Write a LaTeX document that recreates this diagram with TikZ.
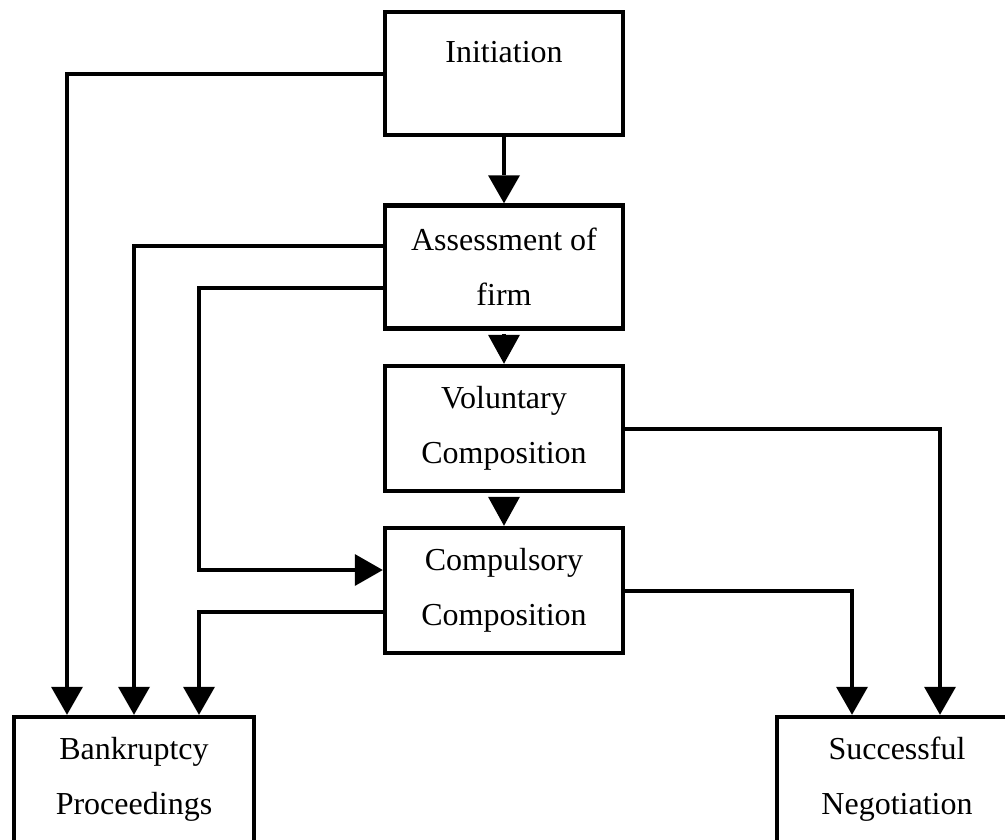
\documentclass[tikz,border=0pt]{standalone}
\usepackage{fontspec}
\setmainfont{Liberation Serif}
\usetikzlibrary{arrows.meta}
\begin{document}
\begin{tikzpicture}[x=1pt,y=-1pt,
  box/.style={draw=black,line width=4.5pt,rectangle,align=center,inner sep=0pt,
    font=\fontsize{32}{55}\selectfont},
  conn/.style={draw=black,line width=4pt,-{Triangle[width=32pt,length=28pt,line width=0pt]}},
  shortconn/.style={draw=black,line width=4pt,shorten <=3.5pt,-{Triangle[width=32pt,length=29pt,line width=0pt]}}]
\useasboundingbox (0,0) rectangle (1005,839);
\clip (0,0) rectangle (1005,839);
\node[box,minimum width=238pt,minimum height=123pt,text depth=44pt] (init) at (504,73.5) {Initiation};
\node[box,minimum width=238pt,minimum height=123pt] (assess) at (504,267) {Assessment of\\firm};
\node[box,minimum width=238pt,minimum height=125pt] (vol) at (504,428.5) {Voluntary\\Composition};
\node[box,minimum width=238pt,minimum height=125pt] (comp) at (504,590.5) {Compulsory\\Composition};
\node[box,minimum width=240pt,minimum height=125pt] (bank) at (134,779.5) {Bankruptcy\\Proceedings};
\node[box,minimum width=240pt,minimum height=125pt] (succ) at (897,779.5) {Successful\\Negotiation};
\coordinate (cin) at ([yshift=20.5pt]comp.west);
\coordinate (cout) at ([yshift=-21.5pt]comp.west);
\coordinate (aup) at ([yshift=21pt]assess.west);
\coordinate (adn) at ([yshift=-21pt]assess.west);
\coordinate (bl) at ([xshift=-67pt]bank.north);
\coordinate (br) at ([xshift=65pt]bank.north);
\coordinate (sl) at ([xshift=-45pt]succ.north);
\coordinate (sr) at ([xshift=43pt]succ.north);
\draw[conn] (init.south) -- (assess.north);
\draw[shortconn] (assess.south) -- (vol.north);
\draw[shortconn] (vol.south) -- (comp.north);
\draw[conn] (init.west) -| (bl);
\draw[conn] (aup) -| (bank.north);
\draw[conn] (adn) -| (br |- cin) -- (cin);
\draw[conn] (cout) -| (br);
\draw[conn] (vol.east) -| (sr);
\draw[conn] (comp.east) -| (sl);
\end{tikzpicture}
\end{document}
